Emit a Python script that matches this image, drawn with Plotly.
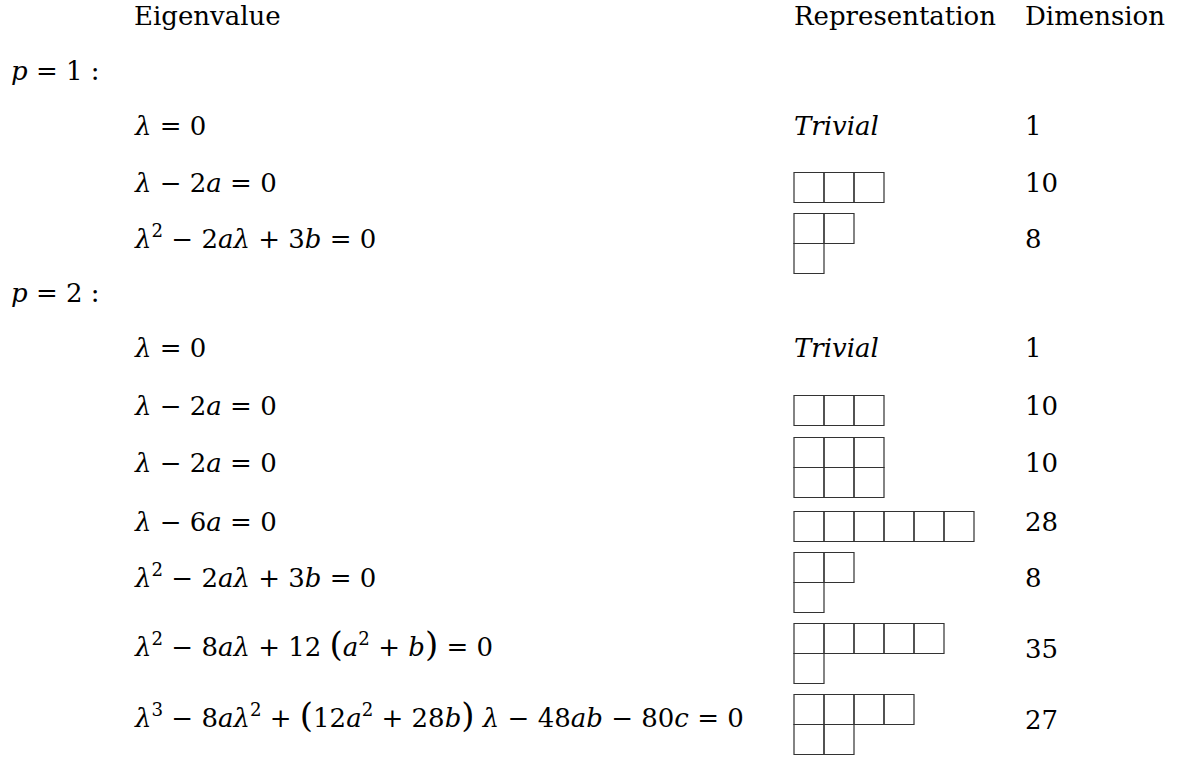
import plotly.graph_objects as go

# ---------------- data ----------------
headers = ["Eigenvalue", "Representation", "Dimension"]
group_labels = ["<i>p</i> = 1 :", "<i>p</i> = 2 :"]

eigen_p1 = [
    "<i>λ</i> = 0",
    "<i>λ</i> − 2<i>a</i> = 0",
    "<i>λ</i><sup>2</sup> − 2<i>aλ</i> + 3<i>b</i> = 0",
]
reps_p1 = ["Trivial", [3], [2, 1]]
dims_p1 = [1, 10, 8]

eigen_p2 = [
    "<i>λ</i> = 0",
    "<i>λ</i> − 2<i>a</i> = 0",
    "<i>λ</i> − 2<i>a</i> = 0",
    "<i>λ</i> − 6<i>a</i> = 0",
    "<i>λ</i><sup>2</sup> − 2<i>aλ</i> + 3<i>b</i> = 0",
    "<i>λ</i><sup>2</sup> − 8<i>aλ</i> + 12 <span style='font-size:34px'>(</span><i>a</i><sup>2</sup> + <i>b</i><span style='font-size:34px'>)</span> = 0",
    "<i>λ</i><sup>3</sup> − 8<i>aλ</i><sup>2</sup> + <span style='font-size:34px'>(</span>12<i>a</i><sup>2</sup> + 28<i>b</i><span style='font-size:34px'>)</span> <i>λ</i> − 48<i>ab</i> − 80<i>c</i> = 0",
]
reps_p2 = ["Trivial", [3], [3, 3], [6], [2, 1], [5, 1], [4, 2]]
dims_p2 = [1, 10, 10, 28, 8, 35, 27]

# ---------------- layout constants ----------------
W, H = 1178, 758
FONT = "DejaVu Serif"
FS = 26
X_GROUP, X_EIG, X_REP, X_DIM = 11, 134, 794, 1025
CELL = 30
HEADER_BASE = 25
GROUP_BASE = [80, 302]
ROW_BASE_P1 = [135, 192, 248]
ROW_BASE_P2 = [357, 415, 472, 531, 587, 658, 729]
DESC = 0.236 * FS  # descent below baseline

fig = go.Figure()
fig.add_trace(go.Scatter(x=[0, W], y=[0, H], mode="markers",
                         marker=dict(opacity=0), hoverinfo="skip", showlegend=False))

ann = []


def text(x, base, s):
    ann.append(dict(x=x, y=base + DESC, xref="x", yref="y", text=s, showarrow=False,
                    xanchor="left", yanchor="bottom", borderpad=0, borderwidth=0,
                    font=dict(family=FONT, size=FS, color="black")))


shapes = []


def young(partition, base):
    rows = len(partition)
    top = base - 4.5 - rows * CELL / 2
    for r, n in enumerate(partition):
        for c in range(n):
            x0 = X_REP + c * CELL
            y0 = top + r * CELL
            shapes.append(dict(type="rect", xref="x", yref="y", x0=x0, x1=x0 + CELL,
                               y0=y0, y1=y0 + CELL,
                               line=dict(color="#333333", width=1.2)))


text(X_EIG, HEADER_BASE, headers[0])
text(X_REP, HEADER_BASE, headers[1])
text(X_DIM, HEADER_BASE, headers[2])

for g, (label, eigs, reps, dims, bases) in enumerate([
        (group_labels[0], eigen_p1, reps_p1, dims_p1, ROW_BASE_P1),
        (group_labels[1], eigen_p2, reps_p2, dims_p2, ROW_BASE_P2)]):
    text(X_GROUP, GROUP_BASE[g], label)
    for e, rep, d, b in zip(eigs, reps, dims, bases):
        text(X_EIG, b, e)
        if isinstance(rep, str):
            text(X_REP, b, "<i>" + rep + "</i>")
        else:
            young(rep, b)
        text(X_DIM, b, str(d))

fig.update_layout(
    width=W, height=H, margin=dict(l=0, r=0, t=0, b=0),
    paper_bgcolor="white", plot_bgcolor="white",
    xaxis=dict(range=[0, W], visible=False, fixedrange=True),
    yaxis=dict(range=[H, 0], visible=False, fixedrange=True),
    annotations=ann, shapes=shapes, showlegend=False,
)
fig.write_html("out.html", config={"displayModeBar": False},
               post_script="document.body.style.margin='0';document.body.style.overflow='hidden';")
